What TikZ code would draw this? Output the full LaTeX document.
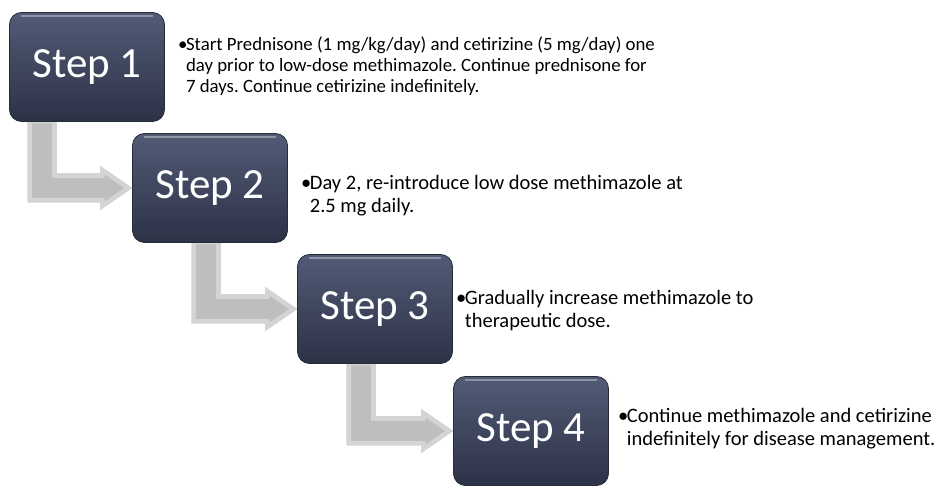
\documentclass[tikz,border=0pt]{standalone}
\usepackage{fontspec}
\setmainfont{Carlito}
\usetikzlibrary{calc,backgrounds}
\frenchspacing
\definecolor{boxtop}{HTML}{525B76}
\definecolor{boxbot}{HTML}{2C3246}
\definecolor{boxedge}{HTML}{262B3A}
\definecolor{arrfill}{HTML}{BEBEBE}
\definecolor{arrrim}{HTML}{D4D4D4}
\tikzset{
  stepbox/.style={rounded corners=12pt, minimum width=155pt, minimum height=109pt,
    top color=boxtop, bottom color=boxbot, draw=boxedge, line width=0.8pt,
    text=white, font=\fontsize{43}{50}\selectfont, inner sep=0pt,
    path picture={\draw[white,opacity=.35,line width=2pt,line cap=round]
      ($(path picture bounding box.north west)+(12,4)$) -- ($(path picture bounding box.north east)+(-12,4)$);}},
  desc/.style={anchor=base west, inner sep=0pt, text=black},
  descbig/.style={desc, font=\fontsize{20.5}{23}\selectfont},
  descsmall/.style={desc, font=\fontsize{18.8}{21}\selectfont},
}
\newcommand\arrowpath[3]{($(#1.south west)+(#3,-3)$) coordinate (p) -- ++(29,0)
    |- ($(#2.west)+(-32,-14.5)$) -- ++(0,-7.5) -- (#2.west) -- ++(-32,22) -- ++(0,-7.5)
    -| (p) -- cycle}
\newcommand\steparrow[3]{%
  \begin{scope}
    \fill[arrfill] \arrowpath{#1}{#2}{#3};
    \clip \arrowpath{#1}{#2}{#3};
    \draw[arrrim, line width=9pt, line join=miter] \arrowpath{#1}{#2}{#3};
  \end{scope}}
\begin{document}
\begin{tikzpicture}[x=1pt,y=-1pt]
\useasboundingbox (0,0) rectangle (938,486);
\node[stepbox] (s1) at (87,67) {Step 1};
\node[stepbox] (s2) at (210,188) {Step 2};
\node[stepbox] (s3) at (375,309) {Step 3};
\node[stepbox] (s4) at (531,431) {Step 4};
\begin{pgfonlayer}{background}
\steparrow{s1}{s2}{18.5}
\steparrow{s2}{s3}{59.5}
\steparrow{s3}{s4}{49.5}
\end{pgfonlayer}
\node[descsmall] (t1) at (178,51) {\begin{tabular}[t]{@{}l@{\hspace{-1.5pt}}l@{}}\textbullet & Start Prednisone (1 mg/kg/day) and cetirizine (5 mg/day) one\\ & day prior to low-dose methimazole. Continue prednisone for\\ & 7 days. Continue cetirizine indefinitely.\end{tabular}};
\node[descbig] (t2) at (301,190) {\begin{tabular}[t]{@{}l@{\hspace{-1.5pt}}l@{}}\textbullet & Day 2, re-introduce low dose methimazole at\\ & 2.5 mg daily.\end{tabular}};
\node[descbig] (t3) at (456,305) {\begin{tabular}[t]{@{}l@{\hspace{-1.5pt}}l@{}}\textbullet & Gradually increase methimazole to\\ & therapeutic dose.\end{tabular}};
\node[descbig] (t4) at (618,423) {\begin{tabular}[t]{@{}l@{\hspace{-1.5pt}}l@{}}\textbullet & Continue methimazole and cetirizine\\ & indefinitely for disease management.\end{tabular}};
\end{tikzpicture}
\end{document}
